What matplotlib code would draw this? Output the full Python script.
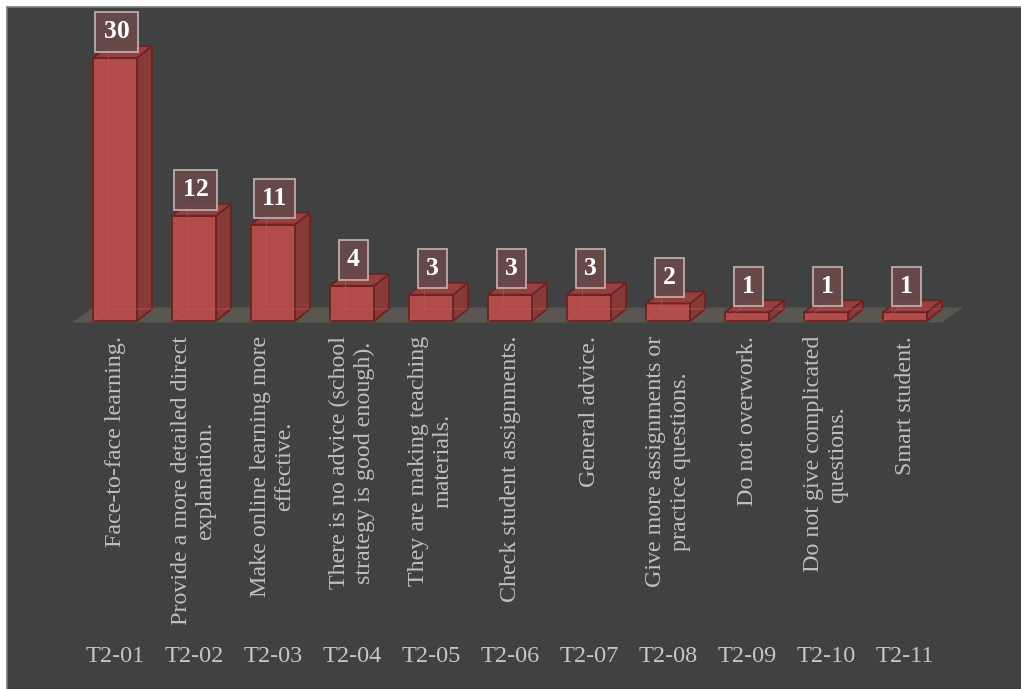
import matplotlib
matplotlib.use("Agg")
import matplotlib.pyplot as plt
from matplotlib.patches import Polygon, Rectangle
from matplotlib import transforms as mtrans

codes = ["T2-01", "T2-02", "T2-03", "T2-04", "T2-05", "T2-06",
         "T2-07", "T2-08", "T2-09", "T2-10", "T2-11"]
descriptions = [
    "Face-to-face learning.",
    "Provide a more detailed direct\nexplanation.",
    "Make online learning more\neffective.",
    "There is no advice (school\nstrategy is good enough).",
    "They are making teaching\nmaterials.",
    "Check student assignments.",
    "General advice.",
    "Give more assignments or\npractice questions.",
    "Do not overwork.",
    "Do not give complicated\nquestions.",
    "Smart student.",
]
counts = [30, 12, 11, 4, 3, 3, 3, 2, 1, 1, 1]

W, H = 1021, 689
fig = plt.figure(figsize=(W / 100, H / 100), dpi=100)
fig.patch.set_facecolor("white")
# dark panel
fig.patches.append(Rectangle((7 / W, -0.05), 1.1, 1.05 - 7 / H, transform=fig.transFigure,
                             facecolor="#414141", edgecolor="#7a7a7a", linewidth=1.2,
                             zorder=-5))

ppu_x = 79.0
ppu_y = 263.0 / 30
ax_left, ax_bottom = 75.5, H - 321
ax = fig.add_axes([ax_left / W, ax_bottom / H, 11 * ppu_x / W, 35 * ppu_y / H])
ax.set_xlim(-0.5, 10.5)
ax.set_ylim(0, 35)
ax.axis("off")
ax.set_zorder(2)

serif = ["Liberation Serif", "DejaVu Serif"]

dx = 15 / ppu_x
dy = 12 / ppu_y
hw = 22 / ppu_x

# floor
fdx = 21 / ppu_x
fdy = 15 / ppu_y
f0 = (72 - ax_left) / ppu_x - 0.5
f1 = (942 - ax_left) / ppu_x - 0.5
fy = -1.5 / ppu_y
ax.add_patch(Polygon([(f0, fy), (f1, fy), (f1 + fdx, fy + fdy), (f0 + fdx, fy + fdy)],
                     closed=True, facecolor="#5a5650", edgecolor="none",
                     zorder=1, clip_on=False))

front_c = "#b24c4a"
side_c = "#883a39"
top_c = "#973f3e"
edge_c = "#6a2322"

for i, v in enumerate(counts):
    x0, x1 = i - hw, i + hw
    side = Polygon([(x1, 0), (x1 + dx, dy), (x1 + dx, v + dy), (x1, v)], closed=True,
                   facecolor=side_c, edgecolor=edge_c, linewidth=1.3, zorder=3,
                   clip_on=False)
    front = Polygon([(x0, 0), (x1, 0), (x1, v), (x0, v)], closed=True,
                    facecolor=front_c, edgecolor=edge_c, linewidth=1.3, zorder=4,
                    clip_on=False)
    top = Polygon([(x0, v), (x1, v), (x1 + dx, v + dy), (x0 + dx, v + dy)], closed=True,
                  facecolor=top_c, edgecolor=edge_c, linewidth=1.3, zorder=4,
                  clip_on=False)
    for p in (side, front, top):
        ax.add_patch(p)
    # faint inner edges seen through the semi-transparent face
    ax.plot([x0 + dx, x0 + dx], [dy, v + dy], color="#c25a57", lw=0.8, alpha=0.5,
            zorder=5, clip_on=False)
    ax.plot([x0, x0 + dx, x1 + dx], [0, dy, dy], color="#c25a57", lw=0.8, alpha=0.5,
            zorder=5, clip_on=False)

    # value label box
    lbl_tr = mtrans.offset_copy(ax.transData, fig=fig, x=1.5, y=14.5, units="dots")
    ax.text(i, v, str(v), transform=lbl_tr, ha="center", va="bottom",
            fontsize=18.5, fontweight="bold", color="white", family=serif,
            zorder=7, clip_on=False,
            bbox=dict(boxstyle="square,pad=0.32", facecolor="#6a4949",
                      edgecolor="#c4b0b0", linewidth=1.3, alpha=0.95))

    # description (rotated)
    desc_tr = mtrans.offset_copy(ax.transData, fig=fig, x=0, y=-15, units="dots")
    ax.text(i, 0, descriptions[i], transform=desc_tr, rotation=90, ha="center",
            va="top", multialignment="center", fontsize=17.3, color="#bfbfbf",
            family=serif, linespacing=1.2, clip_on=False, zorder=6)

    # code label
    code_tr = mtrans.blended_transform_factory(ax.transData, fig.transFigure)
    ax.text(i, 1 - 656 / H, codes[i], transform=code_tr, ha="center", va="center",
            fontsize=17.5, color="#c6c6c6", family=serif, clip_on=False, zorder=6)

fig.savefig("out.png", dpi=100, facecolor=fig.get_facecolor())
